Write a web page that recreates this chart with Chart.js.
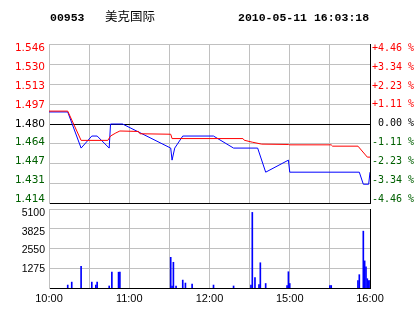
<!DOCTYPE html>
<html>
<head>
<meta charset="utf-8">
<script src="https://cdn.jsdelivr.net/npm/chart.js@4.4.0/dist/chart.umd.min.js"></script>
<style>
  body { margin: 0; background: #fff; }
  #wrap { position: relative; width: 414px; height: 314px; overflow: hidden; background: #fff; }
  canvas { position: absolute; left: 0; }
</style>
</head>
<body>
<div id="wrap">
  <canvas id="price" width="414" height="314" style="top:0"></canvas>
  <canvas id="volume" width="414" height="124" style="top:190px"></canvas>
</div>
<script>
const stockCode = '00953';
const stockName = '美克国际';
const stampText = '2010-05-11 16:03:18';

const prevClose = 1.48;
const priceGrid = [1.546, 1.5295, 1.513, 1.4965, 1.48, 1.4635, 1.447, 1.4305, 1.414];
const priceLabels = ['1.546', '1.530', '1.513', '1.497', '1.480', '1.464', '1.447', '1.431', '1.414'];
const pctLabels = ['+4.46 %', '+3.34 %', '+2.23 %', '+1.11 %', ' 0.00 %', '-1.11 %', '-2.23 %', '-3.34 %', '-4.46 %'];
const volGrid = [0, 1275, 2550, 3825, 5100];
const volLabels = ['5100', '3825', '2550', '1275'];

// minutes of trading since 10:00 (lunch break removed)
const gridMinutes = [0, 30, 60, 90, 120, 150, 180, 210, 240];
const timeMinutes = [0, 60, 120, 180, 240];
const timeLabels = ['10:00', '11:00', '12:00', '15:00', '16:00'];

const avgMinutes = [0, 14, 24, 44, 46, 50, 53, 67, 68, 91, 92, 145, 146, 152, 159, 179, 180, 211, 212, 231, 238, 240];
const avgValues = [1.4907, 1.4907, 1.4664, 1.4664, 1.4700, 1.4726, 1.4742, 1.4738, 1.4719, 1.4715, 1.4679, 1.4679, 1.4665, 1.4649, 1.4633, 1.4630, 1.4627, 1.4627, 1.4616, 1.4616, 1.4525, 1.4525];
const tradeMinutes = [0, 14, 24, 32, 36, 45, 46, 55, 91, 92, 94, 100, 123, 138, 156, 162, 179, 180, 232, 235, 239, 240];
const tradePrices = [1.49, 1.49, 1.46, 1.47, 1.47, 1.46, 1.48, 1.48, 1.46, 1.45, 1.46, 1.47, 1.47, 1.46, 1.46, 1.44, 1.45, 1.44, 1.44, 1.43, 1.43, 1.44];
const volumeMinutes = [14, 17, 24, 32, 35, 36, 45, 47, 52, 53, 91, 92, 93, 95, 100, 102, 107, 123, 138, 151, 152, 154, 157, 158, 162, 178, 179, 180, 210, 211, 231, 232, 235, 236, 237, 238, 239, 240];
const volumes = [190, 380, 1400, 380, 190, 380, 130, 1020, 1020, 1020, 1980, 130, 1660, 130, 510, 320, 255, 190, 130, 190, 4880, 670, 220, 1630, 290, 160, 1050, 290, 160, 160, 480, 860, 3670, 1750, 1370, 600, 480, 480];

const GRID = '#c0c0c0';
const UP = '#ff0000';
const DOWN = '#006000';

const priceCanvas = document.getElementById('price');
const volumeCanvas = document.getElementById('volume');

function labelColor(i) {
    if (i < 4) return UP;
    if (i === 4) return '#000';
    return DOWN;
}

function toPoints(xs, ys) {
    return xs.map((x, i) => ({ x: x, y: ys[i] }));
}

const xGridColors = gridMinutes.map(m => m === 240 ? '#000' : GRID);
const priceGridColors = priceGrid.map(v => (v === prevClose || v === 1.414) ? '#000' : GRID);

function timeScale(showLabels) {
    return {
        type: 'linear',
        min: 0,
        max: 240,
        offset: false,
        afterBuildTicks: s => { s.ticks = gridMinutes.map(v => ({ value: v })); },
        grid: { display: !showLabels, offset: false, drawTicks: false, color: xGridColors },
        border: { color: '#000' },
        ticks: {
            display: showLabels,
            autoSkip: false,
            maxRotation: 0,
            padding: 4,
            color: '#000',
            font: { family: 'Liberation Sans', size: 11 },
            callback: v => {
                const i = timeMinutes.indexOf(v);
                return i < 0 ? '' : timeLabels[i];
            }
        },
        afterFit: s => { s.height = showLabels ? 26 : 0; }
    };
}

const volumeChart = new Chart(volumeCanvas, {
    type: 'bar',
    data: {
        datasets: [
            { label: 'volume', data: toPoints(volumeMinutes, volumes), xAxisID: 'x', yAxisID: 'v', backgroundColor: '#0000ff', borderWidth: 0, barThickness: 1 }
        ]
    },
    options: {
        responsive: false,
        animation: false,
        events: [],
        layout: { padding: { top: 19, bottom: 0, left: 0, right: 0 } },
        plugins: { legend: { display: false }, tooltip: { enabled: false } },
        scales: {
            x: timeScale(true),
            v: {
                axis: 'y',
                position: 'left',
                weight: 0,
                min: 0,
                max: 5100,
                afterBuildTicks: s => { s.ticks = volGrid.map(v => ({ value: v })); },
                ticks: { display: false },
                grid: { display: false, drawTicks: false },
                border: { color: GRID },
                afterFit: s => { s.width = 0; }
            },
            vl: {
                axis: 'y',
                position: 'left',
                weight: 1,
                reverse: true,
                min: -0.21,
                max: 4.0,
                afterBuildTicks: s => { s.ticks = volLabels.map((_, i) => ({ value: i })); },
                ticks: {
                    autoSkip: false,
                    padding: 4,
                    color: '#000',
                    font: { family: 'Liberation Sans', size: 10.5 },
                    callback: v => volLabels[v]
                },
                grid: { display: false, drawTicks: false },
                border: { display: false },
                afterFit: s => { s.width = 49; }
            },
            vr: {
                axis: 'y',
                position: 'right',
                min: 0,
                max: 1,
                ticks: { display: false },
                grid: { display: false, drawTicks: false },
                border: { color: '#000' },
                afterFit: s => { s.width = 44; }
            }
        }
    }
});

const headerPlugin = {
    id: 'header',
    afterDraw(chart) {
        const ctx = chart.ctx;
        ctx.save();
        ctx.fillStyle = '#000';
        ctx.textBaseline = 'alphabetic';
        ctx.font = 'bold 11.5px "Liberation Mono"';
        ctx.fillText(stockCode, 50, 20.5);
        ctx.fillText(stampText, 238, 20.5);
        ctx.font = '12.5px "Noto Sans CJK SC"';
        ctx.fillText(stockName, 105, 20.5);
        ctx.restore();
    }
};

// volume grid lines, taken from the volume chart's scales and stroked on the canvas underneath
const volumeGridPlugin = {
    id: 'volumeGrid',
    beforeDatasetsDraw(chart) {
        const ctx = chart.ctx;
        const area = volumeChart.chartArea;
        const sx = volumeChart.scales.x;
        const sv = volumeChart.scales.v;
        const dy = volumeCanvas.offsetTop - priceCanvas.offsetTop;
        const crisp = p => Math.round(p - 0.5) + 0.5;
        ctx.save();
        ctx.lineWidth = 1;
        ctx.strokeStyle = GRID;
        ctx.beginPath();
        gridMinutes.forEach(m => {
            if (m === 240) return;
            const x = crisp(sx.getPixelForValue(m));
            ctx.moveTo(x, area.top + dy);
            ctx.lineTo(x, area.bottom + dy);
        });
        volGrid.forEach(v => {
            if (v === 0) return;
            const y = crisp(sv.getPixelForValue(v) + dy);
            ctx.moveTo(area.left, y);
            ctx.lineTo(area.right, y);
        });
        ctx.stroke();
        ctx.restore();
    }
};

new Chart(priceCanvas, {
    type: 'line',
    data: {
        datasets: [
            { label: 'avg', data: toPoints(avgMinutes, avgValues), xAxisID: 'x', yAxisID: 'y', borderColor: UP, borderWidth: 1, pointRadius: 0, tension: 0 },
            { label: 'price', data: toPoints(tradeMinutes, tradePrices), xAxisID: 'x', yAxisID: 'y', borderColor: '#0000ff', borderWidth: 1, pointRadius: 0, tension: 0 }
        ]
    },
    options: {
        responsive: false,
        animation: false,
        events: [],
        layout: { padding: { top: 44.5, bottom: 110.5, left: 0, right: 0 } },
        plugins: { legend: { display: false }, tooltip: { enabled: false } },
        scales: {
            x: timeScale(false),
            y: {
                position: 'left',
                weight: 0,
                min: 1.414,
                max: 1.546,
                afterBuildTicks: s => { s.ticks = priceGrid.map(v => ({ value: v })); },
                ticks: { display: false },
                grid: { drawTicks: false, color: priceGridColors },
                border: { color: GRID },
                afterFit: s => { s.width = 0; }
            },
            yl: {
                position: 'left',
                weight: 1,
                reverse: true,
                min: -0.19,
                max: 8.21,
                afterBuildTicks: s => { s.ticks = priceLabels.map((_, i) => ({ value: i })); },
                ticks: {
                    autoSkip: false,
                    padding: 4,
                    font: { family: 'DejaVu Sans', size: 10.5 },
                    color: ctx => labelColor(ctx.tick.value),
                    callback: v => priceLabels[v]
                },
                grid: { display: false, drawTicks: false },
                border: { display: false },
                afterFit: s => { s.width = 49; }
            },
            yr: {
                position: 'right',
                reverse: true,
                min: -0.19,
                max: 8.21,
                afterBuildTicks: s => { s.ticks = pctLabels.map((_, i) => ({ value: i })); },
                ticks: {
                    autoSkip: false,
                    padding: 2,
                    font: { family: 'DejaVu Sans Mono', size: 10 },
                    color: ctx => labelColor(ctx.tick.value),
                    callback: v => pctLabels[v]
                },
                grid: { display: false, drawTicks: false },
                border: { color: '#000' },
                afterFit: s => { s.width = 44; }
            }
        }
    },
    plugins: [headerPlugin, volumeGridPlugin]
});
</script>
</body>
</html>
